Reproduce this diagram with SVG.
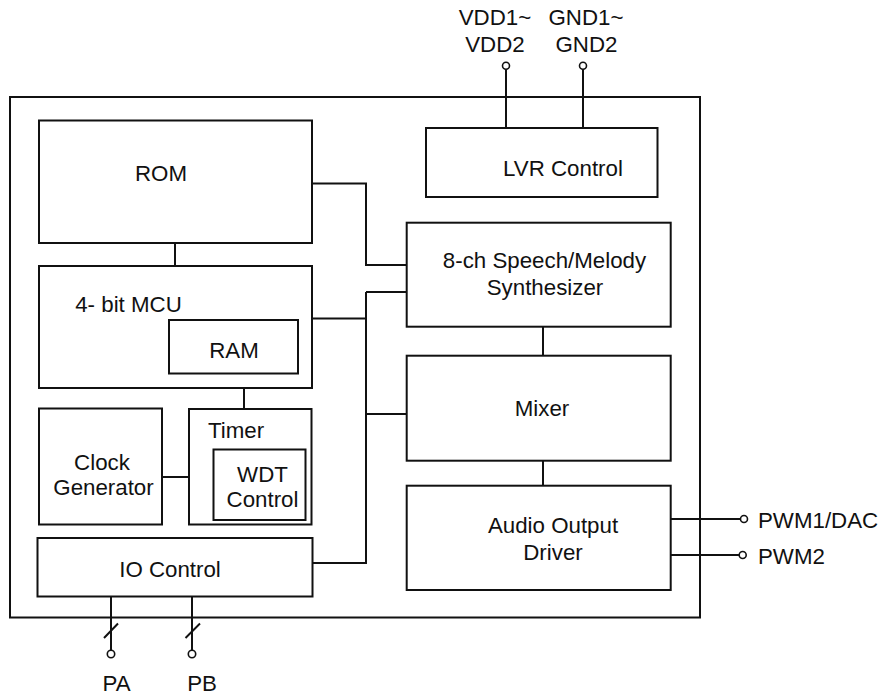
<svg xmlns="http://www.w3.org/2000/svg" width="880" height="698" viewBox="0 0 880 698">
<style>
.b{fill:#fff;stroke:#111;stroke-width:2}
.w{fill:none;stroke:#111;stroke-width:2}
.p{fill:#fff;stroke:#111;stroke-width:1.6}
text{font-family:"Liberation Sans",Arial,sans-serif;font-size:22.3px;fill:#111;text-anchor:middle}
.s{text-anchor:start}
</style>
<rect width="880" height="698" fill="#fff"/>
<g id="chip"><rect class="b" x="10" y="97" width="690" height="520.5"/></g>
<g id="connectors">
<path class="w" d="M506 69V128M583 69V128"/>
<path class="w" d="M175 243V266M244 388V409M162 477H189"/>
<path class="w" d="M312 183.5H366V265H407"/>
<path class="w" d="M312 318.5H366M366 292H407M366 414H407M313 563H366V292"/>
<path class="w" d="M543 327V356M543 461V486"/>
<path class="w" d="M671 519H740M669 555H739"/>
<path class="w" d="M111 597V650M192 597V650M104 638L118 623.5M185.5 638L200 623.5"/>
</g>
<g id="vdd"><circle class="p" cx="506" cy="65.7" r="3.5"/><text x="495" y="25">VDD1~</text><text x="495" y="51.7">VDD2</text></g>
<g id="gnd"><circle class="p" cx="583" cy="65.7" r="3.5"/><text x="586" y="25">GND1~</text><text x="586.5" y="51.7">GND2</text></g>
<g id="lvr"><rect class="b" x="426" y="128" width="231.5" height="69"/><text x="563" y="175.5">LVR Control</text></g>
<g id="rom"><rect class="b" x="39" y="120.5" width="273" height="122.5"/><text x="161" y="181.2">ROM</text></g>
<g id="mcu"><rect class="b" x="39" y="266" width="273" height="122"/><text x="128.5" y="312">4- bit MCU</text></g>
<g id="ram"><rect class="b" x="169" y="320" width="129" height="53.5"/><text x="234" y="358.3">RAM</text></g>
<g id="clock"><rect class="b" x="39" y="408.5" width="123" height="116"/><text x="102" y="470">Clock</text><text x="103.5" y="495">Generator</text></g>
<g id="timer"><rect class="b" x="189" y="409" width="122.5" height="115.5"/><text x="236" y="438.3">Timer</text></g>
<g id="wdt"><rect class="b" x="213.5" y="449.5" width="92" height="70.5"/><text x="262.5" y="481.7">WDT</text><text x="262.5" y="506.7">Control</text></g>
<g id="io"><rect class="b" x="37.5" y="538" width="275" height="58.5"/><text x="170" y="576.7">IO Control</text></g>
<g id="synth"><rect class="b" x="406.7" y="222.7" width="264" height="104"/><text x="544.5" y="268.3">8-ch Speech/Melody</text><text x="545" y="295">Synthesizer</text></g>
<g id="mixer"><rect class="b" x="406.7" y="355.7" width="264" height="105"/><text x="542" y="416">Mixer</text></g>
<g id="audio"><rect class="b" x="406.7" y="485.7" width="264" height="104.3"/><text x="553" y="533.3">Audio Output</text><text x="553" y="560">Driver</text></g>
<g id="pwm1"><circle class="p" cx="744" cy="519" r="3.5"/><text class="s" x="758" y="528.3">PWM1/DAC</text></g>
<g id="pwm2"><circle class="p" cx="742.7" cy="555" r="3.5"/><text class="s" x="758" y="564">PWM2</text></g>
<g id="pa"><circle class="p" cx="111" cy="654" r="3.7"/><text x="116.5" y="690.5">PA</text></g>
<g id="pb"><circle class="p" cx="192" cy="654" r="3.7"/><text x="202" y="690.5">PB</text></g>
</svg>
